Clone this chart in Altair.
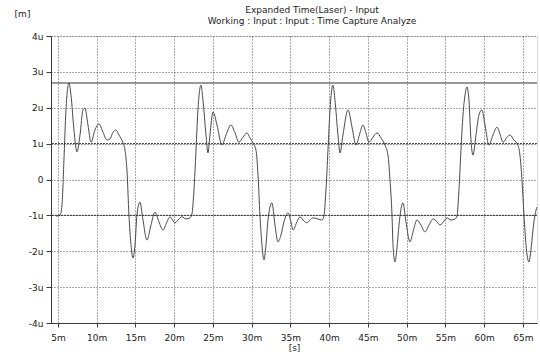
import altair as alt
import pandas as pd

# time in ms
t1 = [4.74, 5.26, 5.52, 5.77, 6.03, 6.42, 6.68, 7.06, 7.45, 7.84, 8.23, 8.48, 8.87, 9.26, 9.77, 10.29, 10.81, 11.32, 11.71, 12.10, 12.48, 12.87, 13.39, 13.65, 13.90, 14.16, 14.42, 14.68, 14.94, 15.19, 15.58, 15.97, 16.48, 17.00, 17.52, 18.03, 18.55, 19.06, 19.45, 20.10, 20.61, 21.00, 21.52, 22.03, 22.29, 22.55, 22.81, 23.06, 23.45]
v1 = [-1.02, -0.99, -0.71, 0.54, 1.94, 2.69, 2.35, 1.38, 0.77, 1.24, 1.94, 1.99, 1.52, 1.04, 1.38, 1.55, 1.32, 1.10, 1.13, 1.32, 1.38, 1.24, 1.02, 0.82, 0.26, -0.99, -1.82, -2.19, -1.82, -0.99, -0.63, -1.13, -1.69, -1.27, -0.91, -1.18, -1.41, -1.18, -1.04, -1.21, -1.10, -1.04, -1.10, -1.07, -0.96, -0.29, 0.82, 1.94, 2.63]
t2 = [23.71, 24.10, 24.35, 24.61, 25.00, 25.52, 26.16, 26.68, 27.32, 27.84, 28.35, 28.87, 29.39, 29.77, 30.16, 30.55, 30.81, 31.06, 31.32, 31.58, 31.84, 32.10, 32.61, 33.00, 33.39, 33.77, 34.16, 34.68, 35.06, 35.32, 35.84, 36.23, 36.74, 37.13, 37.52, 37.90, 38.55, 39.06, 39.32, 39.58, 39.84, 40.10, 40.48]
v2 = [2.21, 1.24, 0.74, 1.24, 1.88, 1.52, 0.96, 1.24, 1.52, 1.30, 1.04, 1.18, 1.30, 1.16, 1.02, 0.82, 0.13, -0.99, -1.82, -2.24, -1.82, -1.13, -0.65, -1.27, -1.74, -1.55, -1.18, -0.93, -1.18, -1.41, -1.18, -1.04, -1.16, -1.21, -1.13, -1.07, -1.10, -1.13, -1.02, -0.29, 0.82, 1.94, 2.63]
t3 = [40.74, 41.13, 41.39, 41.77, 42.42, 42.94, 43.45, 43.97, 44.35, 44.74, 45.13, 45.65, 46.16, 46.68, 47.19, 47.58, 47.84, 48.10, 48.23, 48.48, 48.74, 49.00, 49.52, 49.90, 50.42, 50.81, 51.32, 51.84, 52.35, 52.87, 53.39, 53.90, 54.29, 54.81, 55.19, 55.71, 56.23, 56.48, 56.74, 57.00, 57.26, 57.52, 57.77]
v3 = [2.21, 1.24, 0.74, 1.24, 1.94, 1.46, 0.96, 1.30, 1.52, 1.30, 1.04, 1.18, 1.30, 1.16, 0.96, 0.68, -0.01, -0.99, -1.82, -2.30, -1.91, -1.27, -0.65, -1.18, -1.74, -1.46, -1.13, -1.27, -1.46, -1.27, -1.10, -1.18, -1.27, -1.16, -1.07, -1.13, -1.10, -1.02, -0.29, 0.82, 1.80, 2.35, 2.58]
t4 = [58.03, 58.29, 58.55, 58.94, 59.32, 59.71, 60.10, 60.61, 61.13, 61.65, 62.03, 62.42, 62.94, 63.32, 63.84, 64.35, 64.61, 64.87, 65.13, 65.39, 65.77, 66.03, 66.29, 66.55, 66.81]
v4 = [2.21, 1.10, 0.68, 1.24, 1.80, 1.94, 1.52, 0.96, 1.24, 1.46, 1.27, 1.04, 1.18, 1.24, 1.10, 0.96, 0.68, -0.01, -0.99, -1.82, -2.30, -1.96, -1.41, -0.99, -0.77]

x_ticks = [5, 10, 15, 20, 25, 30, 35, 40, 45, 50, 55, 60, 65]
y_ticks = [-4, -3, -2, -1, 0, 1, 2, 3, 4]
cursor_level = [2.69]
strong_grid = [-1, 1]

times = t1 + t2 + t3 + t4
vals = v1 + v2 + v3 + v4
df = pd.DataFrame({"t": times, "v": vals})

FONT = "DejaVu Sans"
INK = "#3a3a3a"

xs = alt.Scale(domain=[4.10, 66.81], nice=False, zero=False)
ys = alt.Scale(domain=[-4, 4], nice=False, zero=False)

xaxis = alt.Axis(values=x_ticks, labelExpr="datum.value + 'm'", labelOverlap=False,
                 grid=True, gridColor="#555", gridDash=[1, 2], gridOpacity=1,
                 domainColor=INK, tickColor=INK, tickSize=4,
                 labelFont=FONT, labelFontSize=9, labelColor="#222",
                 titleFont=FONT, titleFontSize=9, titleFontWeight="normal",
                 titleColor="#222", titlePadding=1, labelPadding=6)
yaxis = alt.Axis(values=y_ticks, labelOverlap=False, tickCount=9,
                 labelExpr="datum.value == 0 ? '0' : datum.value + 'u'",
                 grid=True, gridColor="#555", gridDash=[1, 2], gridOpacity=1,
                 domainColor=INK, tickColor=INK, tickSize=5,
                 labelFont=FONT, labelFontSize=9, labelColor="#222",
                 titleFont=FONT, titleFontSize=9, titleFontWeight="normal",
                 titleColor="#222", titleAngle=0, titleX=-29, titleY=-23,
                 titleAlign="center", titleBaseline="middle", labelPadding=3)

line = alt.Chart(df).mark_line(color="#4a4a4a", strokeWidth=1, interpolate="monotone").encode(
    x=alt.X("t:Q", scale=xs, title="[s]", axis=xaxis),
    y=alt.Y("v:Q", scale=ys, title="[m]", axis=yaxis),
)

strong = alt.Chart(pd.DataFrame({"v": strong_grid})).mark_rule(
    color="#333", strokeWidth=1, strokeDash=[2, 1]).encode(
    y=alt.Y("v:Q", scale=ys, title="[m]", axis=yaxis))

cursor = alt.Chart(pd.DataFrame({"v": cursor_level})).mark_rule(
    color="#333", strokeWidth=1).encode(
    y=alt.Y("v:Q", scale=ys, title="[m]", axis=yaxis))

chart = alt.layer(line, strong, cursor).properties(
    width=486, height=287,
    padding={"left": 51, "top": 36, "right": 3, "bottom": 33},
    autosize=alt.AutoSizeParams(type="none"),
    title=alt.TitleParams(text="Expanded Time(Laser) - Input",
                          subtitle="Working : Input : Input : Time Capture Analyze",
                          font=FONT, fontSize=9, fontWeight="normal", color="#222",
                          subtitleFont=FONT, subtitleFontSize=9, subtitleColor="#222",
                          subtitlePadding=2, anchor="middle", offset=-17, dx=18),
).configure_view(stroke=None).configure(background="white")

chart.save("out.html", embed_options={"renderer": "svg", "actions": False})
